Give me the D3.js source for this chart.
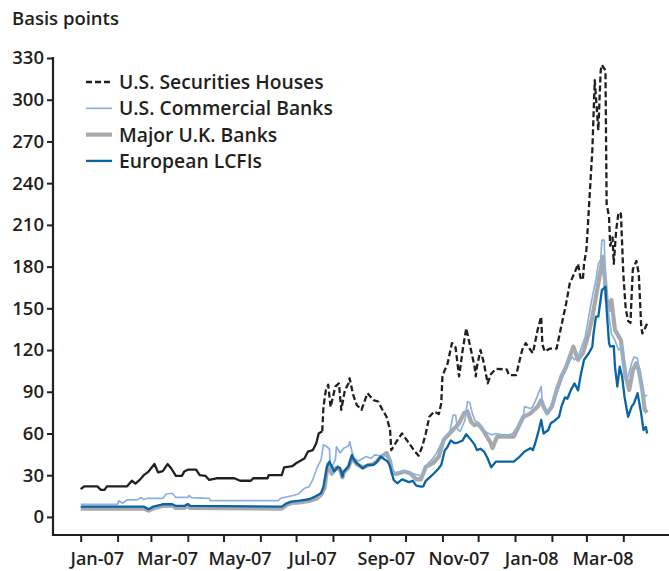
<!DOCTYPE html>
<html><head><meta charset="utf-8">
<script src="https://cdn.jsdelivr.net/npm/d3@7"></script>
<style>
body{margin:0;background:#fff}
text{font-family:"Open Sans",sans-serif;font-weight:600;fill:#231f20}
</style>
</head><body>
<svg id="chart" width="669" height="571"></svg>
<script>
const yTickValues = [0,30,60,90,120,150,180,210,240,270,300,330];
const xTickLabels = ["Jan-07","Mar-07","May-07","Jul-07","Sep-07","Nov-07","Jan-08","Mar-08"];
const seriesNames = ["U.S. Securities Houses","U.S. Commercial Banks","Major U.K. Banks","European LCFIs"];

const securitiesHouses = [
["2007-01-01",20],["2007-01-04",22],["2007-01-15",22],["2007-01-18",19.5],["2007-01-21",19.5],["2007-01-23",22],
["2007-02-09",22],["2007-02-13",26],["2007-02-16",24],["2007-02-20",27],["2007-02-23",30],["2007-02-27",32.6],
["2007-03-04",38],["2007-03-07",32],["2007-03-11",33],["2007-03-15",38],["2007-03-18",35],["2007-03-22",29.5],["2007-03-27",29.5],["2007-03-29",32.6],
["2007-04-01",34],["2007-04-08",34],["2007-04-11",30],["2007-04-16",29.5],["2007-04-19",26.6],["2007-04-25",27.8],
["2007-05-10",27.8],["2007-05-15",26],["2007-05-24",26],["2007-05-26",27.8],
["2007-06-07",27.8],["2007-06-08",30],["2007-06-19",30],["2007-06-21",35.7],["2007-06-28",36.6],
["2007-07-01",38.6],["2007-07-08",42],["2007-07-11",47],["2007-07-15",48],["2007-07-18",53],["2007-07-20",60],["2007-07-23",61.6],["2007-07-24",79],["2007-07-26",91],["2007-07-28",95],["2007-07-30",79],
["2007-08-03",93.7],["2007-08-06",96],["2007-08-08",77],["2007-08-11",91],["2007-08-14",96],["2007-08-15",99.7],["2007-08-18",87.7],["2007-08-21",80.5],["2007-08-25",77],["2007-08-30",89],
["2007-09-04",84],["2007-09-08",83],["2007-09-11",78],["2007-09-15",72],["2007-09-18",62.5],["2007-09-19",48],["2007-09-24",55],["2007-09-28",60],
["2007-10-04",53],["2007-10-08",48],["2007-10-12",44],["2007-10-15",50.5],["2007-10-18",60],["2007-10-21",72],["2007-10-25",75.7],["2007-10-29",74],["2007-10-31",81.7],
["2007-11-01",101],["2007-11-03",105.7],["2007-11-05",109],["2007-11-09",125],["2007-11-12",122],["2007-11-15",101],["2007-11-18",120],["2007-11-21",135.6],["2007-11-25",120],["2007-11-28",108],["2007-11-29",101],["2007-11-30",108],
["2007-12-03",120],["2007-12-06",110],["2007-12-09",96],["2007-12-12",103],["2007-12-16",106.5],["2007-12-25",106],["2007-12-27",102],
["2008-01-02",102],["2008-01-05",113],["2008-01-07",120],["2008-01-10",125],["2008-01-14",120],["2008-01-16",117.7],["2008-01-20",134.5],["2008-01-23",144],["2008-01-24",124],["2008-01-26",119],["2008-01-30",121],
["2008-02-05",121],["2008-02-07",129.6],["2008-02-10",141.6],["2008-02-13",153.6],["2008-02-16",168],["2008-02-18",171.6],["2008-02-21",177.6],["2008-02-23",182],["2008-02-25",172],["2008-02-27",170.4],["2008-02-28",182],
["2008-03-01",192],["2008-03-06",264],["2008-03-08",314],["2008-03-10",290],["2008-03-11",278],["2008-03-13",321],["2008-03-14",325],["2008-03-17",321],["2008-03-18",225],["2008-03-20",216],["2008-03-21",195],["2008-03-23",201],["2008-03-24",182],["2008-03-26",206],["2008-03-28",219],["2008-03-30",218],
["2008-04-01",175],["2008-04-03",150],["2008-04-05",141],["2008-04-07",139.5],["2008-04-09",178],["2008-04-12",184],["2008-04-14",175],["2008-04-16",138],["2008-04-17",132],["2008-04-20",137],["2008-04-21",139]
];

const usCommercialBanks = [
["2007-01-01",9],["2007-02-01",9],["2007-02-02",11.7],["2007-02-05",9.8],["2007-02-09",12.2],["2007-02-17",12.2],["2007-02-21",13.9],["2007-02-23",12.5],["2007-02-26",13.4],
["2007-03-11",13.4],["2007-03-14",16.5],["2007-03-19",17],["2007-03-22",14],["2007-04-01",14],["2007-04-02",15.4],["2007-04-04",13.9],["2007-04-19",13.4],["2007-04-20",11.7],
["2007-06-16",11.7],["2007-06-18",13.4],["2007-06-26",14.9],["2007-07-03",16.5],["2007-07-08",20.6],["2007-07-12",21.8],["2007-07-15",26.6],["2007-07-19",36.2],["2007-07-22",41],["2007-07-24",51.8],["2007-07-26",51],["2007-07-29",49],["2007-07-30",33.8],
["2007-08-03",41],["2007-08-04",50.5],["2007-08-07",46],["2007-08-10",49.4],["2007-08-14",51],["2007-08-15",54],["2007-08-18",43.4],["2007-08-22",40],["2007-08-29",43.4],
["2007-09-02",42],["2007-09-05",44.6],["2007-09-10",44],["2007-09-14",44.6],["2007-09-17",41],["2007-09-19",36.2],["2007-09-22",31.4],["2007-09-27",32.6],
["2007-10-02",32.6],["2007-10-06",31.4],["2007-10-12",30],["2007-10-15",29],["2007-10-17",33.8],["2007-10-20",38.6],["2007-10-23",41],["2007-10-27",45.8],["2007-10-30",51],
["2007-11-03",57.7],["2007-11-07",60],["2007-11-10",73.3],["2007-11-12",73.3],["2007-11-14",62.5],["2007-11-16",61.6],["2007-11-20",69.7],["2007-11-22",83],["2007-11-24",82],["2007-11-26",75],["2007-11-28",69.7],
["2007-12-01",67.3],["2007-12-03",65.7],["2007-12-07",61.3],["2007-12-12",59],["2007-12-16",60],["2007-12-21",59],["2007-12-27",59],["2007-12-30",60],
["2008-01-05",67],["2008-01-08",72],["2008-01-09",79.3],["2008-01-14",78],["2008-01-16",79.3],["2008-01-19",85.3],["2008-01-23",93.7],["2008-01-24",81.7],["2008-01-27",74.5],["2008-01-31",79.3],
["2008-02-04",86.5],["2008-02-08",96],["2008-02-12",105.7],["2008-02-15",110.5],["2008-02-18",115.2],["2008-02-20",113],["2008-02-23",115],["2008-02-26",122.4],["2008-02-29",129.6],
["2008-03-03",144],["2008-03-06",158.4],["2008-03-09",170.4],["2008-03-11",182],["2008-03-13",185],["2008-03-14",199],["2008-03-16",199],["2008-03-17",163],["2008-03-20",144],["2008-03-22",132],["2008-03-25",127],["2008-03-28",120],["2008-03-31",122.4],
["2008-04-02",101],["2008-04-05",101],["2008-04-08",110.5],["2008-04-10",115],["2008-04-13",114],["2008-04-16",93.7],["2008-04-19",86.5],["2008-04-21",87.7]
];

const majorUKBanks = [
["2007-01-01",6],["2007-02-23",6],["2007-02-27",4.5],["2007-03-03",6],["2007-03-11",8],["2007-03-19",8],["2007-03-22",6.5],["2007-03-29",6.5],["2007-04-01",8],["2007-04-03",6.5],
["2007-06-19",6],["2007-06-23",8.5],["2007-06-27",10],["2007-07-04",10.5],["2007-07-12",11.5],["2007-07-18",13],["2007-07-22",16],["2007-07-25",21],["2007-07-27",34],["2007-07-28",38],["2007-07-31",31],
["2007-08-03",35],["2007-08-07",34],["2007-08-09",28.5],["2007-08-10",32],["2007-08-14",35.5],["2007-08-17",43],["2007-08-18",41],["2007-08-21",38],["2007-08-26",35.5],["2007-08-30",37],
["2007-09-04",38],["2007-09-07",40],["2007-09-10",43],["2007-09-15",46],["2007-09-18",40],["2007-09-20",31.4],["2007-09-24",31],["2007-09-30",32.6],
["2007-10-05",31.4],["2007-10-10",27],["2007-10-14",27],["2007-10-18",36],["2007-10-24",38.6],["2007-10-29",43.4],
["2007-11-02",55.4],["2007-11-07",60],["2007-11-11",63.7],["2007-11-15",67.3],["2007-11-19",74.5],["2007-11-22",76],["2007-11-25",68.5],["2007-11-28",66],
["2007-12-01",67],["2007-12-05",62.5],["2007-12-11",54],["2007-12-13",49.5],["2007-12-17",57.7],["2007-12-31",57.7],
["2008-01-04",65],["2008-01-08",72],["2008-01-14",74.5],["2008-01-20",79.3],["2008-01-23",84],["2008-01-25",79.3],["2008-01-28",74.5],
["2008-02-01",79.3],["2008-02-05",91.3],["2008-02-09",101],["2008-02-13",108],["2008-02-19",122.4],["2008-02-23",113],["2008-02-27",117.7],
["2008-03-03",132],["2008-03-06",144],["2008-03-10",163],["2008-03-12",172.8],["2008-03-15",187],["2008-03-18",156],["2008-03-21",149],["2008-03-22",156],["2008-03-25",134.5],["2008-03-30",127],
["2008-04-01",113],["2008-04-03",101],["2008-04-06",91.3],["2008-04-09",105.7],["2008-04-12",110.5],["2008-04-14",105.7],["2008-04-17",91.3],["2008-04-19",77],["2008-04-21",75]
];

const europeanLCFIs = [
["2007-01-01",7.4],["2007-02-23",7.4],["2007-02-27",5.5],["2007-03-03",7.4],["2007-03-11",9.1],["2007-03-19",9.1],["2007-03-22",7.9],["2007-03-29",7.9],["2007-04-01",9.3],["2007-04-03",7.9],
["2007-06-19",7.4],["2007-06-23",9.8],["2007-06-27",11],["2007-07-04",11.7],["2007-07-12",12.7],["2007-07-17",14.6],["2007-07-22",17],["2007-07-24",21.8],["2007-07-27",36.2],["2007-07-29",39.8],
["2007-08-02",32.6],["2007-08-05",36.2],["2007-08-07",35],["2007-08-09",29],["2007-08-10",32.6],["2007-08-14",36.2],["2007-08-17",44.6],["2007-08-18",42],["2007-08-21",38.6],["2007-08-26",35],["2007-08-30",37.4],
["2007-09-04",37.4],["2007-09-07",39.8],["2007-09-10",43.4],["2007-09-16",39.8],["2007-09-18",36.2],["2007-09-21",26.6],["2007-09-24",24.2],["2007-09-28",27],
["2007-10-04",25],["2007-10-07",26],["2007-10-10",22.5],["2007-10-14",21.8],["2007-10-16",22],["2007-10-18",26],["2007-10-22",29],["2007-10-25",31.4],["2007-10-29",35],["2007-10-31",37.4],
["2007-11-03",48],["2007-11-05",50],["2007-11-08",55],["2007-11-11",53],["2007-11-14",53.5],["2007-11-18",55],["2007-11-21",59.5],["2007-11-25",55.4],["2007-11-28",52],["2007-11-30",48],
["2007-12-03",49],["2007-12-06",47],["2007-12-09",42],["2007-12-12",35.7],["2007-12-16",39.8],["2007-12-31",39.8],
["2008-01-05",43.4],["2008-01-09",47],["2008-01-14",49.4],["2008-01-16",48],["2008-01-18",53],["2008-01-21",62.5],["2008-01-23",69.7],["2008-01-25",60],["2008-01-29",62.5],["2008-01-31",67.3],
["2008-02-03",69],["2008-02-07",72],["2008-02-09",79.3],["2008-02-12",86],["2008-02-14",85],["2008-02-17",91.3],["2008-02-20",96],["2008-02-23",91],["2008-02-25",101],["2008-02-28",113],
["2008-03-03",117.7],["2008-03-06",122.4],["2008-03-07",132],["2008-03-09",144],["2008-03-11",144],["2008-03-14",163],["2008-03-17",165.6],["2008-03-18",149],["2008-03-20",125],["2008-03-21",122.4],["2008-03-24",123],["2008-03-25",108],["2008-03-27",93.7],["2008-03-29",108],["2008-03-31",101],
["2008-04-02",86.5],["2008-04-05",72],["2008-04-08",79.3],["2008-04-10",81.7],["2008-04-13",89],["2008-04-16",74.5],["2008-04-18",62.5],["2008-04-20",64.7],["2008-04-21",60]
];

const parse = d3.timeParse("%Y-%m-%d");
const svg = d3.select("#chart");
const ink = "#231f20";

const x = d3.scaleTime().domain([new Date(2007,0,1), new Date(2008,3,1)]).range([80.7, 623.3]);
const y = d3.scaleLinear().domain([-13, 330]).range([535, 58]);

// axes
const yAxis = d3.axisLeft(y).tickValues(yTickValues).tickSize(6).tickPadding(3).tickSizeOuter(0);
const gy = svg.append("g").attr("transform","translate(53,0)").call(yAxis);
gy.select(".domain").remove();
gy.selectAll(".tick line").attr("stroke",ink).attr("stroke-width",2);
gy.selectAll(".tick text").attr("font-size",18.5).attr("fill",ink).attr("font-family","Open Sans").attr("font-weight",600);
svg.append("line").attr("x1",53).attr("x2",53).attr("y1",y(330)-1).attr("y2",536).attr("stroke",ink).attr("stroke-width",2.2);

const monthTicks = d3.timeMonth.range(new Date(2007,0,1), new Date(2008,3,2));
const xAxis = d3.axisBottom(x).tickValues(monthTicks).tickSize(7).tickFormat("").tickSizeOuter(0);
const gx = svg.append("g").attr("transform","translate(0,535)").call(xAxis);
gx.select(".domain").remove();
gx.selectAll(".tick line").attr("stroke",ink).attr("stroke-width",2);
svg.append("line").attr("x1",52).attr("x2",669).attr("y1",535).attr("y2",535).attr("stroke",ink).attr("stroke-width",2.2);

const labelDates = xTickLabels.map(s => d3.timeParse("%b-%y")(s));
svg.append("g").selectAll("text").data(xTickLabels).join("text")
  .attr("x",(d,i)=> x(new Date(labelDates[i].getFullYear(), labelDates[i].getMonth(), 15)))
  .attr("y",565).attr("text-anchor","middle").attr("font-size",18).text(d=>d);

svg.append("text").attr("x",12).attr("y",25).attr("font-size",18.5).text("Basis points");

// lines
const line = d3.line().x(d=>x(parse(d[0]))).y(d=>y(d[1]));
const styles = [
  {data: majorUKBanks, color:"#a7a9ac", width:4.2},
  {data: usCommercialBanks, color:"#8cb1dc", width:1.7},
  {data: europeanLCFIs, color:"#0a64a4", width:2.3}
];
styles.forEach(s=>{
  svg.append("path").datum(s.data).attr("d",line).attr("fill","none")
    .attr("stroke",s.color).attr("stroke-width",s.width).attr("stroke-linejoin","round");
});

// securities houses: calm first half looks solid (short daily dashes), turbulent part dashed
const shG = svg.append("g");
const splitDate = parse("2007-07-23");
const calm = securitiesHouses.filter(d => parse(d[0]) <= splitDate);
const turbulent = securitiesHouses.filter(d => parse(d[0]) >= splitDate);
let run = [calm[0]];
const flush = () => { if (run.length>1) shG.append("path").datum(run).attr("d",line).attr("fill","none").attr("stroke",ink).attr("stroke-width",2.3).attr("stroke-linejoin","round"); };
for (let i=1;i<calm.length;i++){
  const a = calm[i-1], b = calm[i];
  const days = (parse(b[0]) - parse(a[0]))/864e5;
  const dx = x(parse(b[0]))-x(parse(a[0])), dy = y(b[1])-y(a[1]);
  const per = Math.hypot(dx/days, dy/days);
  if (per <= 6.5) { run.push(b); }
  else {
    flush();
    shG.append("path").datum([a,b]).attr("d",line).attr("fill","none").attr("stroke",ink)
      .attr("stroke-width",2.3).attr("stroke-dasharray","6,3");
    run = [b];
  }
}
flush();
shG.append("path").datum(turbulent).attr("d",line).attr("fill","none").attr("stroke",ink)
  .attr("stroke-width",2.3).attr("stroke-dasharray","6,3").attr("stroke-linejoin","round");

// legend
const legendStyles = [
  {color:ink, width:2.3, dash:"6,3"},
  {color:"#8cb1dc", width:1.7, dash:null},
  {color:"#a7a9ac", width:4.2, dash:null},
  {color:"#0a64a4", width:2.3, dash:null}
];
const lg = svg.append("g");
seriesNames.forEach((name,i)=>{
  const by = 89 + i*26.3;
  const l = lg.append("line").attr("x1",86).attr("x2",112).attr("y1",by-7).attr("y2",by-7)
    .attr("stroke",legendStyles[i].color).attr("stroke-width",legendStyles[i].width);
  if (legendStyles[i].dash) l.attr("stroke-dasharray",legendStyles[i].dash);
  lg.append("text").attr("x",119).attr("y",by).attr("font-size",19.3).text(name);
});
</script>
</body></html>
